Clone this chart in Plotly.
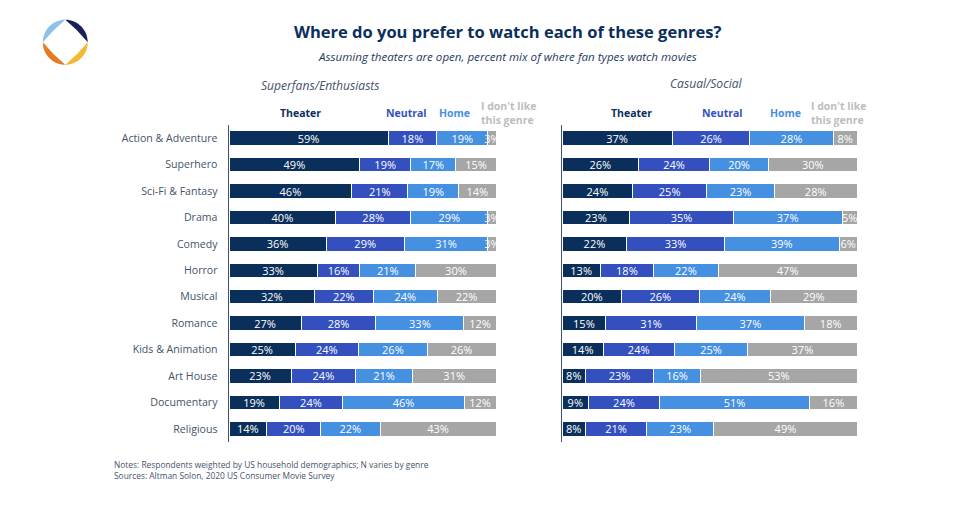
import plotly.graph_objects as go

W, H = 966, 505
FONT = "Open Sans"

genres = ["Action & Adventure", "Superhero", "Sci-Fi & Fantasy", "Drama", "Comedy", "Horror",
          "Musical", "Romance", "Kids & Animation", "Art House", "Documentary", "Religious"]
series_names = ["Theater", "Neutral", "Home", "I don't like this genre"]

super_theater = [59, 49, 46, 40, 36, 33, 32, 27, 25, 23, 19, 14]
super_neutral = [18, 19, 21, 28, 29, 16, 22, 28, 24, 24, 24, 20]
super_home = [19, 17, 19, 29, 31, 21, 24, 33, 26, 21, 46, 22]
super_dislike = [3, 15, 14, 3, 3, 30, 22, 12, 26, 31, 12, 43]

casual_theater = [37, 26, 24, 23, 22, 13, 20, 15, 14, 8, 9, 8]
casual_neutral = [26, 24, 25, 35, 33, 18, 26, 31, 24, 23, 24, 21]
casual_home = [28, 20, 23, 37, 39, 22, 24, 37, 25, 16, 51, 23]
casual_dislike = [8, 30, 28, 5, 6, 47, 29, 18, 37, 53, 16, 49]

colors = ["#0B2F5B", "#3350BE", "#4590E0", "#A6A6A6"]
INK = "#0B2F5B"
MUTED = "#44546A"

fig = go.Figure()


def add_panel(groups, xa, ya):
    for name, vals, col in zip(series_names, groups, colors):
        fig.add_trace(go.Bar(
            y=genres, x=vals, name=name, orientation="h", xaxis=xa, yaxis=ya,
            marker=dict(color=col, line=dict(color="white", width=1)),
            text=[f"{v}%" for v in vals], textposition="inside", insidetextanchor="middle",
            textangle=0, constraintext="none", cliponaxis=False,
            textfont=dict(family=FONT, size=11, color="white"),
            showlegend=False, hoverinfo="x+y",
        ))


add_panel([super_theater, super_neutral, super_home, super_dislike], "x", "y")
add_panel([casual_theater, casual_neutral, casual_home, casual_dislike], "x2", "y2")


def px(x):
    return x / W


def py(y):
    return 1 - y / H


def label(x, y, text, size=11, color=INK, bold=False, italic=False, anchor="center"):
    if bold:
        text = f"<b>{text}</b>"
    if italic:
        text = f"<i>{text}</i>"
    fig.add_annotation(xref="paper", yref="paper", x=px(x), y=py(y), text=text, showarrow=False,
                       xanchor=anchor, yanchor="middle", align="left" if anchor == "left" else "center",
                       borderpad=0, borderwidth=0,
                       font=dict(family=FONT, size=size, color=color))


label(508, 31, "Where do you prefer to watch each of these genres?", size=16.5, bold=True)
label(508, 57, "Assuming theaters are open, percent mix of where fan types watch movies",
      size=11.6, color="#1F3A5F", italic=True)
label(261, 85, "Superfans/Enthusiasts", size=12.1, color=MUTED, italic=True, anchor="left")
label(670, 83, "Casual/Social", size=12.1, color=MUTED, italic=True, anchor="left")

for xs, x_dis in (((300, 406, 454), 481), ((631, 722, 785), 811)):
    label(xs[0], 113, series_names[0], size=10.5, color=INK, bold=True)
    label(xs[1], 113, series_names[1], size=10.5, color=colors[1], bold=True)
    label(xs[2], 113, series_names[2], size=10.5, color=colors[2], bold=True)
    label(x_dis, 106.5, "I don't like", size=10.5, color="#BDBDBD", bold=True, anchor="left")
    label(x_dis, 120, "this genre", size=10.5, color="#BDBDBD", bold=True, anchor="left")

label(114, 464.5, "Notes: Respondents weighted by US household demographics; N varies by genre",
      size=8.4, color=MUTED, anchor="left")
label(114, 475.5, "Sources: Altman Solon, 2020 US Consumer Movie Survey", size=8.4, color=MUTED, anchor="left")

# logo: four leaves around a rounded diamond
cx, cy, r, k, c = 65.3, 42.3, 22.5, 12.4, 12.4
leaves = [(-1, -1, "#8FC1E8"), (1, -1, "#1A1F5C"), (1, 1, "#F5B735"), (-1, 1, "#E57B25")]
for sx, sy, col in leaves:
    # start on the vertical axis, outer arc to the horizontal axis, inner curve back
    a = (cx, cy + sy * r)
    b = (cx + sx * r, cy)
    c1 = (cx + sx * k, cy + sy * r)
    c2 = (cx + sx * r, cy + sy * k)
    q = (cx + sx * c, cy + sy * c)
    f = lambda p: f"{px(p[0]):.5f},{py(p[1]):.5f}"
    fig.add_shape(type="path", xref="paper", yref="paper", line_width=0, fillcolor=col,
                  path=f"M {f(a)} C {f(c1)} {f(c2)} {f(b)} Q {f(q)} {f(a)} Z")

y_common = dict(autorange="reversed", showgrid=False, zeroline=False, showline=True,
                linecolor="#44546A", linewidth=1.2, ticks="")
fig.update_layout(
    width=W, height=H, margin=dict(l=0, r=0, t=0, b=0), paper_bgcolor="white", plot_bgcolor="white",
    barmode="stack", barnorm="percent", bargap=0.45, showlegend=False,
    font=dict(family=FONT),
    xaxis=dict(domain=[px(229), px(496)], range=[0, 100.001], visible=False, fixedrange=True),
    xaxis2=dict(domain=[px(562), px(857)], range=[0, 100.001], visible=False, fixedrange=True),
    yaxis=dict(domain=[py(442), py(125)], anchor="x", showticklabels=True, ticksuffix="   ",
               tickfont=dict(family=FONT, size=10.6, color=MUTED), **y_common),
    yaxis2=dict(domain=[py(442), py(125)], anchor="x2", showticklabels=False, **y_common),
)

fig.write_html("out.html", config={"displayModeBar": False},
               post_script="document.body.style.margin='0';document.body.style.overflow='hidden';")
